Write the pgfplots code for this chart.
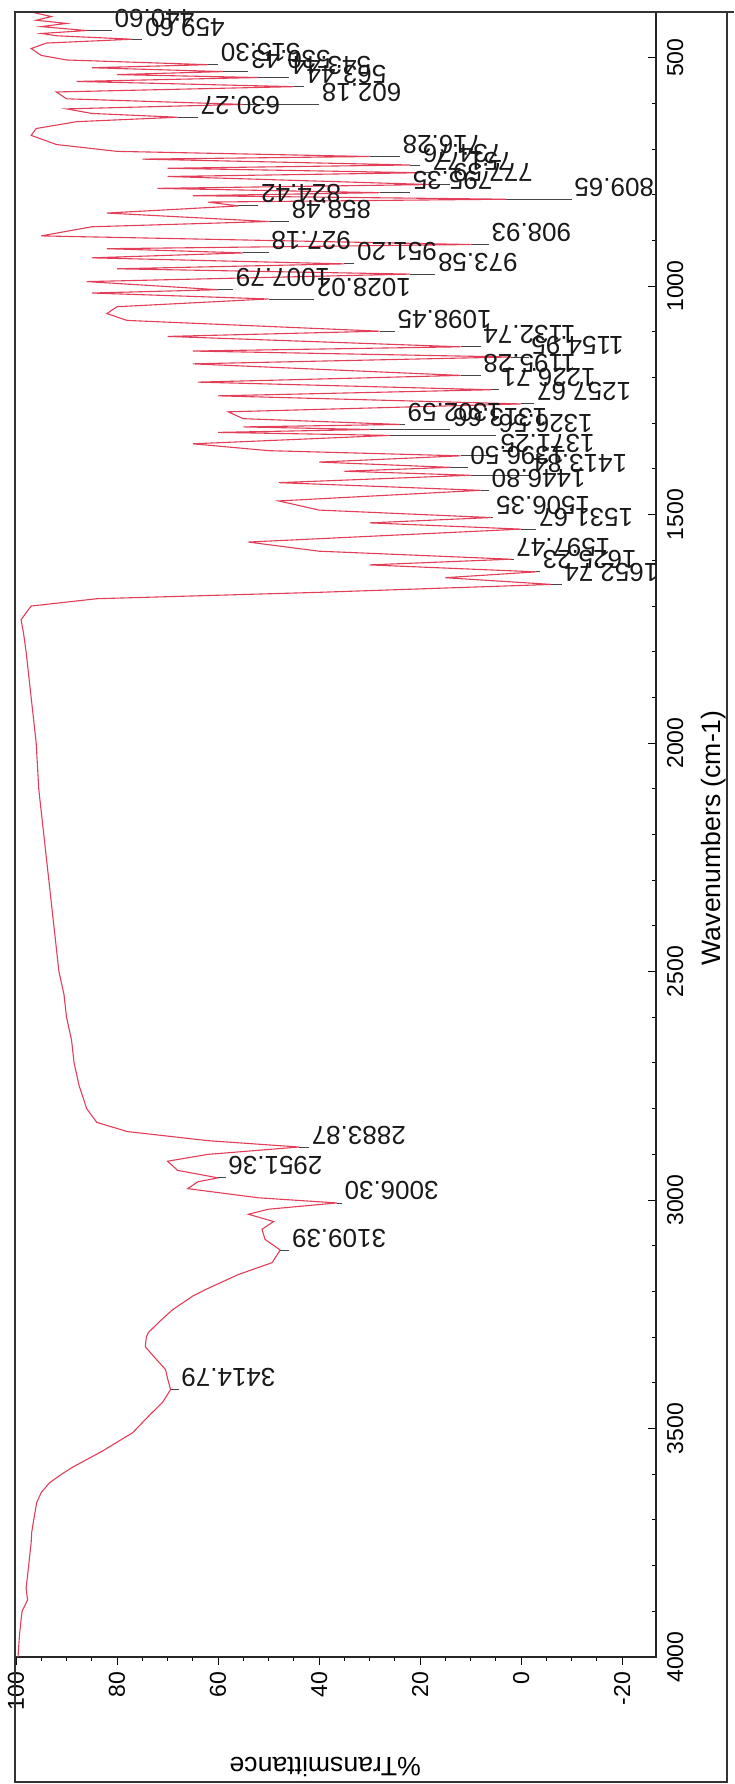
\documentclass[border=0pt]{standalone}
\usepackage{fontspec}
\setmainfont{Liberation Sans}
\usepackage{pgfplots}
\usepackage{pgfplotstable}
\pgfplotsset{compat=1.18}
\definecolor{spec}{RGB}{226,62,88}
\definecolor{lead}{RGB}{70,70,70}

% spectrum: %T, wavenumber
\pgfplotstableread{
T nu
97 400
93 410
96 418
90 425
95 432
86 440.6
95 447
92 452
77 459.6
94 468
97 480
95 495
90 505
62 515.3
85 522
59 530.4
80 537
52 543.4
88 552
45 563.4
92 575
90 590
55 602.2
90 612
85 622
68 630.3
88 640
96 655
97 670
92 690
80 705
30 716.3
75 722
22 734.8
70 742
20 751.8
70 760
18 777.6
72 786
28 795.4
65 802
3 809.7
62 816
56 824.4
82 840
50 858.5
85 870
95 890
10 908.9
82 918
55 927.2
85 938
35 951.2
80 962
22 973.6
86 990
60 1007.8
85 1015
50 1028
80 1045
82 1060
78 1075
28 1098.5
70 1110
12 1132.7
65 1142
2 1155
65 1170
12 1195.3
64 1210
6 1226.7
60 1240
0 1257.7
58 1275
55 1290
24 1302.6
55 1308
30 1313.7
60 1320
26 1326.6
65 1345
50 1360
12 1371.3
40 1385
14 1396.5
35 1405
10 1413.8
48 1430
8 1446.8
48 1470
40 1490
6 1506.4
30 1518
0 1531.7
54 1560
40 1580
2 1597.5
30 1610
-3 1625.2
15 1638
-6 1652.7
40 1670
84 1684
97 1700
99 1730
98.5 1760
98 1800
97.5 1850
97 1900
96.5 1950
96 2000
95.5 2100
94.5 2200
93.5 2300
93 2350
92.5 2400
92 2450
91.5 2500
90.5 2550
90 2600
89 2650
88.5 2700
87.5 2750
86 2800
84 2830
78 2850
62 2870
44 2883.9
62 2900
70 2915
68 2935
60 2951.4
64 2960
66 2975
52 2995
36.5 3006.3
50 3020
54 3031
49 3047
51.3 3064
50.7 3086
47.7 3109.4
49.3 3137
56 3163
62.5 3196
65 3210
69 3240
71.5 3265
73.8 3290
74.2 3300
74.4 3321
72.5 3345
70.4 3371
70 3390
69.4 3414.8
71 3443
73.5 3470
76.9 3509
83 3550
88.7 3584
91 3600
93.4 3619
95 3640
95.9 3662
96.5 3700
96.9 3728
97 3750
97.5 3800
98 3850
97.7 3875
98.8 3900
99.3 3950
99.6 4000
}\spectrum

% leader lines: from peak tip to label, rows separated by nan
\pgfplotstableread{
T nu
69.4 3414.79
67.8 3414.79
nan nan
47.7 3109.39
45.9 3109.39
nan nan
36.5 3006.30
35.5 3006.30
nan nan
60 2951.36
58.5 2951.36
nan nan
44 2883.87
42 2883.87
nan nan
-6 1652.74
-8 1652.74
nan nan
-3 1625.23
-3.7 1625.23
nan nan
2 1597.47
1.5 1597.47
nan nan
0 1531.67
-3 1531.67
nan nan
6 1506.35
5.5 1506.35
nan nan
8 1446.80
6.4 1446.80
nan nan
10 1413.84
-1.8 1413.84
nan nan
14 1396.50
10.6 1396.50
nan nan
12 1371.25
4.6 1371.25
nan nan
26 1326.56
5 1326.56
nan nan
30 1313.66
14 1313.66
nan nan
24 1302.59
23 1302.59
nan nan
0 1257.67
-2.6 1257.67
nan nan
6 1226.71
4.4 1226.71
nan nan
12 1195.28
8 1195.28
nan nan
2 1154.95
-1.5 1154.95
nan nan
12 1132.74
8 1132.74
nan nan
28 1098.45
25 1098.45
nan nan
50 1028.02
41 1028.02
nan nan
60 1007.79
57 1007.79
nan nan
22 973.58
17 973.58
nan nan
35 951.20
33 951.20
nan nan
55 927.18
50 927.18
nan nan
10 908.93
6.4 908.93
nan nan
50 858.48
46 858.48
nan nan
56 824.42
52 824.42
nan nan
3 809.65
-10 809.65
nan nan
28 795.35
22 795.35
nan nan
18 777.59
14 777.59
nan nan
20 751.77
18 751.77
nan nan
22 734.76
20 734.76
nan nan
30 716.28
24 716.28
nan nan
68 630.27
64 630.27
nan nan
55 602.18
40 602.18
nan nan
45 563.44
43 563.44
nan nan
52 543.44
46 543.44
nan nan
59 530.43
54 530.43
nan nan
62 515.30
60 515.30
nan nan
77 459.60
75 459.60
nan nan
86 440.60
81 440.60
}\leaders

% peak labels: left end of the (upside-down) text
\pgfplotstableread{
T nu lab
67.8 3414.79 3414.79
45.9 3109.39 3109.39
35.5 3006.30 3006.30
58.5 2951.36 2951.36
42 2883.87 2883.87
-8 1652.74 1652.74
-3.7 1625.23 1625.23
1.5 1597.47 1597.47
-3 1531.67 1531.67
5.5 1506.35 1506.35
6.4 1446.80 1446.80
-1.8 1413.84 1413.84
10.6 1396.50 1396.50
4.6 1371.25 1371.25
5 1326.56 1326.56
14 1313.66 1313.66
23 1302.59 1302.59
-2.6 1257.67 1257.67
4.4 1226.71 1226.71
8 1195.28 1195.28
-1.5 1154.95 1154.95
8 1132.74 1132.74
25 1098.45 1098.45
41 1028.02 1028.02
57 1007.79 1007.79
17 973.58 973.58
33 951.20 951.20
50 927.18 927.18
6.4 908.93 908.93
46 858.48 858.48
52 824.42 824.42
-10 809.65 809.65
22 795.35 795.35
14 777.59 777.59
18 751.77 751.77
20 734.76 734.76
24 716.28 716.28
64 630.27 630.27
40 602.18 602.18
43 563.44 563.44
46 543.44 543.44
54 530.43 530.43
60 515.30 515.30
75 459.60 459.60
81 440.60 440.60
}\peaks

\begin{document}
\begin{tikzpicture}
\begin{axis}[
  name=ax,
  scale only axis,
  width=320.5pt, height=822.5pt,
  x dir=reverse, y dir=reverse,
  xmin=-26.7, xmax=100.2,
  ymin=400, ymax=4000,
  xtick={100,80,60,40,20,0,-20},
  minor x tick num=3,
  ytick={500,1000,...,4000},
  minor y tick num=4,
  xtick pos=bottom, ytick pos=right,
  yticklabel pos=right,
  xtick align=outside, ytick align=inside,
  major tick length=4pt, minor tick length=2.2pt,
  tick style={black, line width=0.5pt},
  axis line style={black!85, line width=0.6pt},
  /pgf/number format/assume math mode=true,
  /pgf/number format/set thousands separator={},
  xticklabel style={rotate=90, anchor=east, font=\fontsize{11.5}{13}\selectfont},
  yticklabel style={rotate=90, anchor=north, font=\fontsize{11.5}{13}\selectfont},
  yticklabel shift=2pt,
  xlabel={\%Transmittance},
  ylabel={Wavenumbers (cm-1)},
  xlabel style={at={(axis description cs:0.484,-0.0669)}, rotate=180, anchor=center,
    font=\fontsize{13.3}{15}\selectfont},
  ylabel style={at={(axis description cs:1.0905,0.498)}, anchor=center,
    font=\fontsize{13.3}{15}\selectfont},
  clip=false,
]
\addplot[spec, line width=0.55pt] table[x=T, y=nu] {\spectrum};
\addplot[lead, line width=0.45pt, unbounded coords=jump] table[x=T, y=nu] {\leaders};
\addplot[draw=none, mark=none, nodes near coords, point meta=explicit symbolic,
  nodes near coords style={rotate=180, anchor=north east, inner sep=1.2pt,
    font=\fontsize{13}{15}\selectfont, text=black!90}]
  table[x=T, y=nu, meta=lab] {\peaks};
\end{axis}
\draw[black!80, line width=0.6pt] (ax.north west) -- ([xshift=39pt]ax.north east);
\draw[black!80, line width=0.6pt] ([xshift=35.5pt]ax.north east)
  -- ([xshift=35.5pt,yshift=-62.5pt]ax.south east)
  -- ([yshift=-62.5pt]ax.south west) -- (ax.north west);
\pgfresetboundingbox
\path[use as bounding box] ([xshift=-7.5pt,yshift=-63.5pt]ax.south west)
  rectangle ([xshift=39pt,yshift=6pt]ax.north east);
\end{tikzpicture}
\end{document}
